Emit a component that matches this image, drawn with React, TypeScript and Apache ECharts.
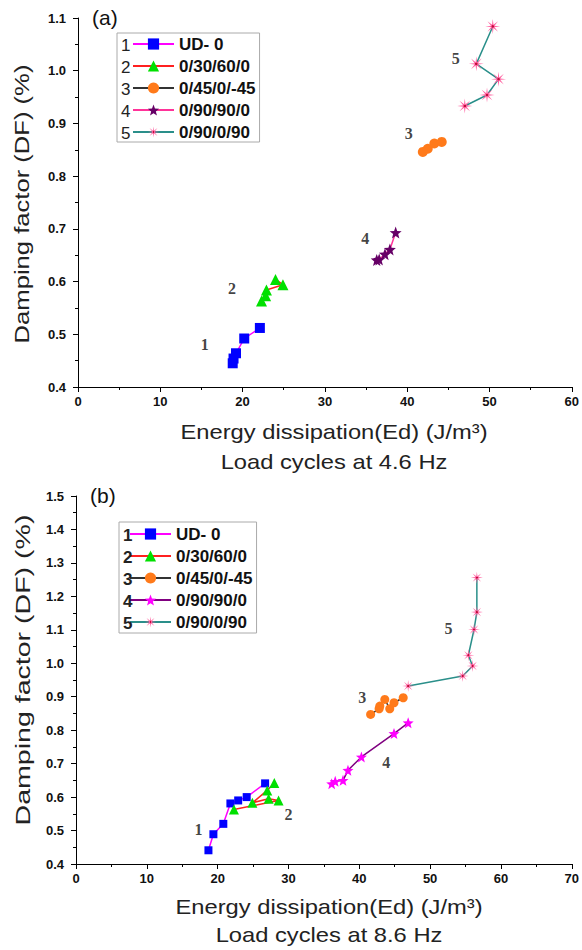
import React, { useEffect, useRef } from 'react';
import * as echarts from 'echarts';

// ---------- data ----------
const seriesNames = ['UD- 0', '0/30/60/0', '0/45/0/-45', '0/90/90/0', '0/90/0/90'];
const legendNumbers = ['1', '2', '3', '4', '5'];

// (a) 4.6 Hz
const a_ud0 = [[18.8, 0.445], [18.9, 0.454], [19.2, 0.464], [20.2, 0.492], [22.1, 0.512]];
const a_30_60 = [[22.3, 0.563], [22.8, 0.573], [22.9, 0.584], [24.9, 0.594], [24.0, 0.604]];
const a_45_0 = [[41.9, 0.846], [42.5, 0.852], [43.3, 0.862], [44.2, 0.865]];
const a_90_90 = [[36.3, 0.641], [36.6, 0.642], [37.3, 0.652], [37.9, 0.661], [38.6, 0.693]];
const a_90_0 = [[47.0, 0.933], [49.7, 0.954], [51.1, 0.984], [48.4, 1.013], [50.4, 1.084]];
const a_labelPos = [[15.4, 0.48], [18.7, 0.586], [40.2, 0.881], [34.9, 0.682], [45.9, 1.024]];

// (b) 8.6 Hz
const b_ud0 = [[18.7, 0.441], [19.4, 0.489], [20.8, 0.52], [21.8, 0.581], [22.9, 0.59], [24.1, 0.6], [26.7, 0.641]];
const b_30_60 = [[22.3, 0.563], [28.6, 0.59], [27.2, 0.595], [24.9, 0.583], [27.0, 0.62], [28.0, 0.642]];
const b_45_0 = [[41.6, 0.847], [42.8, 0.864], [42.9, 0.872], [43.6, 0.892], [44.3, 0.864], [44.9, 0.882], [46.2, 0.897]];
const b_90_90 = [[36.1, 0.64], [36.6, 0.647], [37.7, 0.65], [38.4, 0.68], [40.3, 0.72], [44.9, 0.79], [46.9, 0.822]];
const b_90_0 = [[46.9, 0.932], [54.6, 0.962], [56.0, 0.992], [55.4, 1.024], [56.2, 1.101], [56.6, 1.153], [56.6, 1.256]];
const b_labelPos = [[17.3, 0.503], [30.0, 0.548], [40.4, 0.897], [43.8, 0.702], [52.6, 1.104]];

const xTicksA = { min: 0, max: 60, interval: 10 };
const xTicksB = { min: 0, max: 70, interval: 10 };
const yTicksA = { min: 0.4, max: 1.1, interval: 0.1 };
const yTicksB = { min: 0.4, max: 1.5, interval: 0.1 };

const yTitle = 'Damping factor (DF) (%)';
const xTitleA = 'Energy dissipation(Ed) (J/m³)\nLoad cycles at 4.6 Hz';
const xTitleB = 'Energy dissipation(Ed) (J/m³)\nLoad cycles at 8.6 Hz';

// ---------- symbols ----------
function spikePath(n: number, rOut: number, rIn: number): string {
  const pts: string[] = [];
  for (let i = 0; i < n * 2; i++) {
    const r = i % 2 === 0 ? rOut : rIn;
    const ang = (Math.PI * i) / n - Math.PI / 2;
    pts.push((i === 0 ? 'M' : 'L') + (r * Math.cos(ang)).toFixed(3) + ',' + (r * Math.sin(ang)).toFixed(3));
  }
  return 'path://' + pts.join('') + 'Z';
}
const STAR = spikePath(5, 1, 0.42);
const ASTER = spikePath(8, 1, 0.24);

const SANS = '"Liberation Sans", Arial, Helvetica, sans-serif';
const SERIF = '"Liberation Serif", "Times New Roman", serif';

const pinkAster = {
  type: 'radial', x: 0.5, y: 0.5, r: 0.5,
  colorStops: [
    { offset: 0, color: '#c0103a' },
    { offset: 0.12, color: '#c0103a' },
    { offset: 0.2, color: '#ff5a9c' },
    { offset: 1, color: '#ff5a9c' },
  ],
};

type Cfg = {
  data: number[][][];
  labels: number[][];
  xT: { min: number; max: number; interval: number };
  yT: { min: number; max: number; interval: number };
  grid: { left: number; top: number; width: number; height: number };
  lineColors: string[];
  markColors: any[];
  sizes: number[];
  legend: { left: number; top: number; pad: number[]; numBold: boolean };
  tag: string;
  xName: string;
  xNameCenter: number[];
  xNameLH: number;
  xNameScale: number;
  yNameCenter: number[];
  yNameScale: number;
};

const symbols = ['rect', 'triangle', 'circle', STAR, ASTER];

function buildOption(c: Cfg) {
  const ITEM_H = 18;
  const GAP = 4;
  const series: any[] = c.data.map((d, i) => ({
    type: 'line',
    name: seriesNames[i],
    data: d,
    symbol: symbols[i],
    symbolSize: c.sizes[i],
    lineStyle: { color: c.lineColors[i], width: 1.5 },
    itemStyle: { color: c.markColors[i] },
    z: 3,
  }));
  series.push({
    type: 'scatter',
    name: 'labels',
    symbolSize: 1,
    itemStyle: { color: 'transparent' },
    data: c.labels.map((p, i) => ({ value: p, name: legendNumbers[i] })),
    label: {
      show: true,
      position: 'inside',
      formatter: (p: any) => p.name,
      fontFamily: SERIF,
      fontWeight: 'bold',
      fontSize: 16,
      color: '#111',
    },
    z: 4,
  });
  const graphic: any[] = [
    {
      type: 'text',
      left: c.grid.left + 14,
      top: c.grid.top - 11,
      style: { text: c.tag, fontFamily: SANS, fontSize: 21, fill: '#111' },
    },
    {
      type: 'text',
      x: c.xNameCenter[0],
      y: c.xNameCenter[1],
      scaleX: c.xNameScale,
      style: {
        text: c.xName,
        fontFamily: SANS,
        fontSize: 21,
        lineHeight: c.xNameLH,
        fill: '#222',
        align: 'center',
        verticalAlign: 'middle',
      },
    },
    {
      type: 'text',
      x: c.yNameCenter[0],
      y: c.yNameCenter[1],
      rotation: Math.PI / 2,
      scaleX: c.yNameScale,
      style: {
        text: yTitle,
        fontFamily: SANS,
        fontSize: 21,
        fill: '#222',
        align: 'center',
        verticalAlign: 'middle',
      },
    },
  ];
  legendNumbers.forEach((n, i) => {
    graphic.push({
      type: 'text',
      x: c.legend.left + 4,
      y: c.legend.top + 1 + c.legend.pad[0] + ITEM_H / 2 + i * (ITEM_H + GAP),
      style: {
        text: n,
        fontFamily: SANS,
        fontSize: 17,
        fontWeight: c.legend.numBold ? 'bold' : 'normal',
        fill: '#222',
        verticalAlign: 'middle',
      },
      z: 100,
    });
  });
  const axisLine = { show: true, onZero: false, lineStyle: { color: '#000', width: 1 } };
  return {
    animation: false,
    backgroundColor: '#fff',
    grid: { ...c.grid, containLabel: false },
    legend: {
      orient: 'vertical',
      left: c.legend.left,
      top: c.legend.top,
      padding: c.legend.pad,
      itemWidth: 41,
      itemHeight: 14,
      itemGap: GAP,
      borderColor: '#aaa',
      borderWidth: 1,
      data: seriesNames,
      selectedMode: false,
      textStyle: { fontFamily: SANS, fontSize: 17, fontWeight: 'bold', color: '#111', lineHeight: ITEM_H },
    },
    xAxis: {
      type: 'value',
      min: c.xT.min,
      max: c.xT.max,
      interval: c.xT.interval,
      axisLine,
      axisTick: { show: true, inside: false, length: 5, lineStyle: { color: '#000' } },
      minorTick: { show: true, splitNumber: 2, length: 3, lineStyle: { color: '#000' } },
      splitLine: { show: false },
      axisLabel: { margin: 8, fontFamily: SANS, fontSize: 13, fontWeight: 'bold', color: '#111' },
    },
    yAxis: {
      type: 'value',
      min: c.yT.min,
      max: c.yT.max,
      interval: c.yT.interval,
      axisLine,
      axisTick: { show: true, inside: false, length: 5, lineStyle: { color: '#000' } },
      minorTick: { show: true, splitNumber: 2, length: 3, lineStyle: { color: '#000' } },
      splitLine: { show: false },
      axisLabel: {
        margin: 12,
        fontFamily: SANS,
        fontSize: 13,
        fontWeight: 'bold',
        color: '#111',
        formatter: (v: number) => v.toFixed(1),
      },
    },
    graphic,
    series,
  };
}

const cfgA: Cfg = {
  data: [a_ud0, a_30_60, a_45_0, a_90_90, a_90_0],
  labels: a_labelPos,
  xT: xTicksA,
  yT: yTicksA,
  grid: { left: 78, top: 18, width: 496, height: 369 },
  lineColors: ['#ff00ff', '#ff2020', '#333333', '#ff3399', '#2a8f8a'],
  markColors: ['#0000ff', '#00e000', '#ff7a1a', '#660066', pinkAster],
  sizes: [10, 11, 10, 12, 15],
  legend: { left: 117, top: 33, pad: [2, 4, 1, 15], numBold: false },
  tag: '(a)',
  xName: xTitleA,
  xNameCenter: [334, 447],
  xNameLH: 30,
  xNameScale: 1.13,
  yNameCenter: [22, 204],
  yNameScale: 1.22,
};

const cfgB: Cfg = {
  data: [b_ud0, b_30_60, b_45_0, b_90_90, b_90_0],
  labels: b_labelPos,
  xT: xTicksB,
  yT: yTicksB,
  grid: { left: 76, top: 21, width: 499, height: 368 },
  lineColors: ['#ff00ff', '#ff2020', '#333333', '#800080', '#2a8f8a'],
  markColors: ['#0000ff', '#00e000', '#ff7a1a', '#ff00ff', pinkAster],
  sizes: [8, 10, 9, 11, 12],
  legend: { left: 119, top: 47, pad: [3, 4, 2, 10], numBold: true },
  tag: '(b)',
  xName: xTitleB,
  xNameCenter: [329, 446],
  xNameLH: 28,
  xNameScale: 1.13,
  yNameCenter: [22, 195],
  yNameScale: 1.36,
};

function Panel({ cfg, top }: { cfg: Cfg; top: number }) {
  const ref = useRef<HTMLDivElement>(null);
  useEffect(() => {
    if (!ref.current) return;
    const chart = echarts.init(ref.current, undefined, { renderer: 'svg' });
    chart.setOption(buildOption(cfg) as any);
    return () => chart.dispose();
  }, [cfg]);
  return (
    <div
      ref={ref}
      style={{ position: 'absolute', left: 0, top, width: 582, height: 475 }}
    />
  );
}

export default function App() {
  return (
    <div style={{ position: 'absolute', left: 0, top: 0, width: 582, height: 950, background: '#fff' }}>
      <Panel cfg={cfgA} top={0} />
      <Panel cfg={cfgB} top={475} />
    </div>
  );
}
